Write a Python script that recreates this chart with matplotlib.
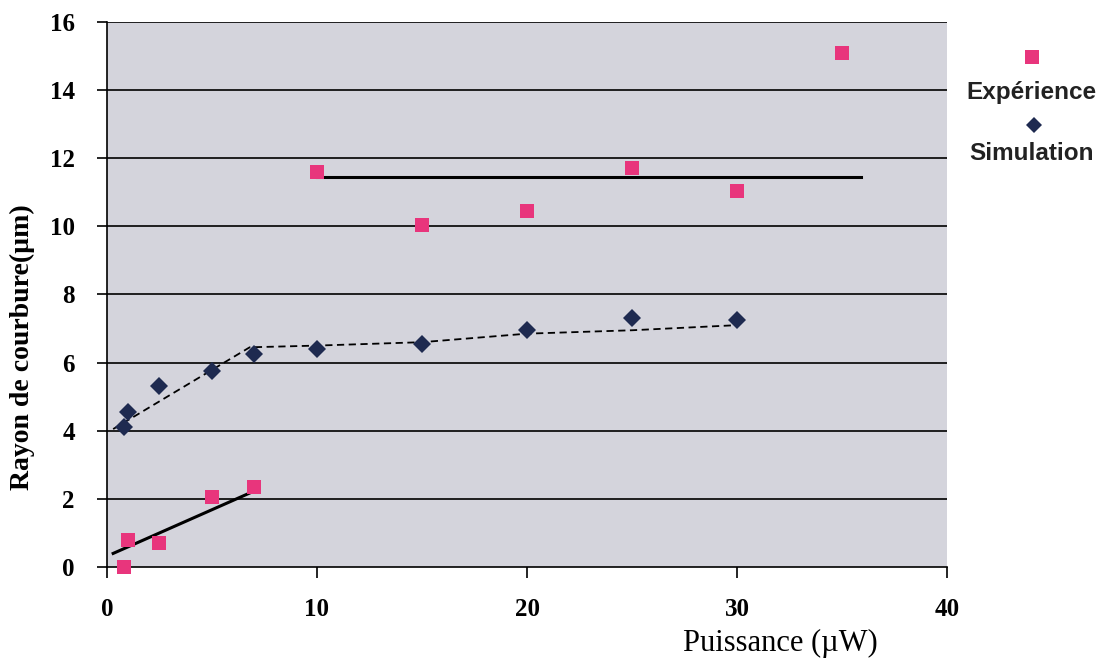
import numpy as np
import matplotlib
matplotlib.use('Agg')
import matplotlib.pyplot as plt

# experience (pink squares)
exp_x = [0.8, 1.0, 2.5, 5.0, 7.0, 10.0, 15.0, 20.0, 25.0, 30.0, 35.0]
exp_y = [0.0, 0.8, 0.7, 2.05, 2.35, 11.6, 10.05, 10.45, 11.7, 11.05, 15.1]

# simulation (navy diamonds)
sim_x = [0.8, 1.0, 2.5, 5.0, 7.0, 10.0, 15.0, 20.0, 25.0, 30.0]
sim_y = [4.1, 4.55, 5.3, 5.75, 6.25, 6.4, 6.55, 6.95, 7.3, 7.25]

# trend lines
fit1_x = [0.3, 6.9]
fit1_y = [0.4, 2.2]
fit2_x = [10.0, 35.9]
fit2_y = [11.45, 11.45]
dash_x = [0.3, 6.8, 10.0, 15.0, 20.0, 25.0, 30.0]
dash_y = [4.05, 6.45, 6.5, 6.6, 6.85, 6.95, 7.1]

serif = 'Liberation Serif'
sans = 'Liberation Sans'

fig = plt.figure(figsize=(11.13, 6.64), dpi=100)
ax = fig.add_axes([0.096, 0.146, 0.755, 0.821])
ax.set_facecolor('#d4d4dc')

for yy in np.arange(2, 17, 2):
    ax.axhline(yy, color='black', lw=1.2, zorder=1)

ax.plot(fit1_x, fit1_y, color='black', lw=2.2, zorder=2)
ax.plot(fit2_x, fit2_y, color='black', lw=2.2, zorder=2)
ax.plot(dash_x, dash_y, color='black', lw=1.3, ls=(0, (4, 2.5)), zorder=2)

ax.plot(exp_x, exp_y, 's', color='#e8357c', ms=9.5, mew=0, zorder=3, clip_on=False)
ax.plot(sim_x, sim_y, 'D', color='#1e2a50', ms=9, mew=0, zorder=3)

ax.set_xlim(0, 40)
ax.set_ylim(0, 16)
ax.set_xticks([0, 10, 20, 30, 40])
ax.set_yticks(np.arange(0, 17, 2))
for s in ['top', 'right']:
    ax.spines[s].set_visible(False)
ax.spines['left'].set_linewidth(1.2)
ax.spines['bottom'].set_linewidth(1.2)
ax.tick_params(axis='y', length=7, width=1.2, direction='out', pad=16)
ax.tick_params(axis='x', length=8, width=1.2, direction='out', pad=14)
for lab in ax.get_xticklabels() + ax.get_yticklabels():
    lab.set_fontfamily(serif)
    lab.set_fontweight('bold')
    lab.set_fontsize(18)

ax.set_xlabel('Puissance (µW)', fontfamily=serif, fontsize=22)
ax.xaxis.set_label_coords(0.801, -0.113)
ax.set_ylabel('Rayon de courbure(µm)', fontfamily=serif, fontweight='bold', fontsize=20)
ax.yaxis.set_label_coords(-0.086, 0.404)

# legend, marker above the text
ax.plot([0.927], [1 - 57 / 664], 's', color='#e8357c', ms=9.5, mew=0,
        transform=fig.transFigure, clip_on=False)
fig.text(0.927, 1 - 92 / 664, 'Expérience', ha='center', va='center',
         fontfamily=sans, fontweight='bold', fontsize=17.5, color='#222222')
ax.plot([0.929], [1 - 125 / 664], 'D', color='#1e2a50', ms=8.5, mew=0,
        transform=fig.transFigure, clip_on=False)
fig.text(0.927, 1 - 153 / 664, 'Simulation', ha='center', va='center',
         fontfamily=sans, fontweight='bold', fontsize=17.5, color='#222222')

fig.savefig('out.png', dpi=100)
